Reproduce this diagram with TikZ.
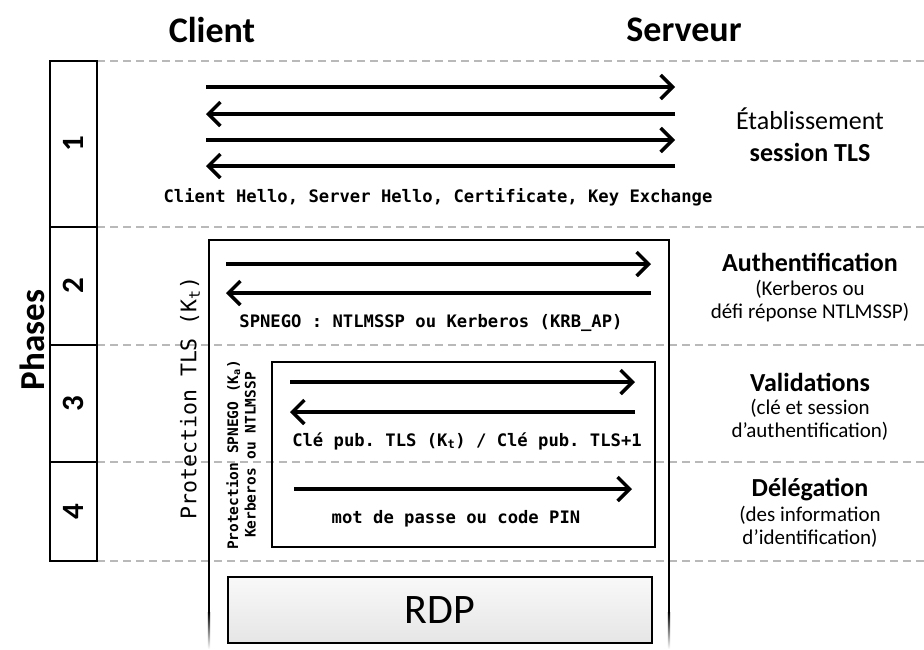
\documentclass[tikz,border=0pt]{standalone}
\usepackage{fontspec}
\setmainfont{Carlito}
\setmonofont{DejaVu Sans Mono}
\usepackage{xcolor}
\usepackage{tikz}
\usetikzlibrary{arrows.meta,positioning,calc}

\begin{document}
\begin{tikzpicture}[
    x=1pt, y=-1pt,
    phasebox/.style={rectangle, draw=black, line width=1.3pt, rotate=90, minimum height=47pt, inner sep=0pt, font=\fontsize{31}{31}\selectfont\bfseries},
    headlabel/.style={font=\fontsize{36}{36}\selectfont\bfseries},
    msglabel/.style={font=\fontsize{17.2}{18}\selectfont\ttfamily\bfseries},
    titlelabel/.style={align=center, inner sep=0pt, font=\fontsize{26}{32}\selectfont},
    sublabel/.style={align=center, inner sep=0pt, font=\fontsize{21}{23}\selectfont},
    sepline/.style={draw=gray!55, line width=1.4pt, dash pattern=on 8pt off 5pt},
    msgarrow/.style={-{Straight Barb[length=12pt, width=24pt, line width=3.4pt]}, line width=3.8pt},
    protbox/.style={draw=black, line width=2.2pt}
]
    \useasboundingbox (0,0) rectangle (924,649);

    % separators between phases
    \foreach \y in {61,227,345,462,561}
        \draw [sepline] (97,\y) -- (924,\y);

    % column of phases
    \node [headlabel, rotate=90, font=\fontsize{35}{35}\selectfont\bfseries] (phases) at (32,340) {Phases};
    \node [phasebox, minimum width=166pt] (ph1) at (73.5,144) {1};
    \node [phasebox, minimum width=118pt] (ph2) at (73.5,286) {2};
    \node [phasebox, minimum width=117pt] (ph3) at (73.5,403.5) {3};
    \node [phasebox, minimum width=99pt] (ph4) at (73.5,511.5) {4};

    \node [headlabel] (client) at (212,30) {Client};
    \node [headlabel] (serveur) at (684,30) {Serveur};

    % phase 1 : TLS
    \foreach \i/\y in {1/87,2/114,3/140,4/166} {
        \coordinate (c\i) at (206,\y);
        \coordinate (s\i) at (675,\y);
    }
    \draw [msgarrow] (c1) -- (s1);
    \draw [msgarrow] (s2) -- (c2);
    \draw [msgarrow] (c3) -- (s3);
    \draw [msgarrow] (s4) -- (c4);
    \node [msglabel] (tlsmsg) at (438,197) {Client Hello, Server Hello, Certificate, Key Exchange};

    % TLS protection
    \coordinate (tlsbl) at (209,612);
    \coordinate (tlsbr) at (669,612);
    \draw [protbox] (tlsbl) -- (209,240) -- (669,240) -- (tlsbr);
    \shade [top color=black, bottom color=white] (207.9,612) rectangle (210.1,649);
    \shade [top color=black, bottom color=white] (667.9,612) rectangle (670.1,649);
    \node [rotate=90, font=\fontsize{21.5}{22}\selectfont\ttfamily] (tlsprot) at (190,398) {Protection TLS (K\textsubscript{t})};

    % phase 2 : authentication
    \coordinate (c5) at (226,264);  \coordinate (s5) at (651,264);
    \coordinate (c6) at (226,293);  \coordinate (s6) at (651,293);
    \draw [msgarrow] (c5) -- (s5);
    \draw [msgarrow] (s6) -- (c6);
    \node [msglabel] (authmsg) at (431,323) {SPNEGO : NTLMSSP ou Kerberos (KRB\_AP)};

    % SPNEGO protection
    \draw [protbox] (272,362) rectangle (655,547);
    \node [rotate=90, align=center, font=\fontsize{14.5}{17.5}\selectfont\ttfamily\bfseries] (spnegoprot) at (241,455) {Protection SPNEGO (K\textsubscript{a})\\Kerberos ou NTLMSSP};

    % phase 3 : validations
    \coordinate (c7) at (290,382);  \coordinate (s7) at (635,382);
    \coordinate (c8) at (290,412);  \coordinate (s8) at (635,412);
    \draw [msgarrow] (c7) -- (s7);
    \draw [msgarrow] (s8) -- (c8);
    \node [msglabel] (valmsg) at (467,441) {Clé pub. TLS (K\textsubscript{t}) / Clé pub. TLS+1};

    % phase 4 : delegation
    \coordinate (c9) at (294,489);  \coordinate (s9) at (632,489);
    \draw [msgarrow] (c9) -- (s9);
    \node [msglabel] (delmsg) at (456,519) {mot de passe ou code PIN};

    % RDP
    \node [draw=black, line width=1.2pt, top color=gray!5, bottom color=gray!20, minimum width=424pt, minimum height=66pt, font=\fontsize{42}{42}\selectfont] (rdp) at (440,610) {RDP};

    % descriptions of the phases
    \node [titlelabel] (t1) at (810,135) {Établissement\\\textbf{session TLS}};
    \node [titlelabel, font=\fontsize{26}{30}\selectfont\bfseries] (t2) at (810,262) {Authentification};
    \node [sublabel] (d2) at (810,301) {(Kerberos ou\\défi réponse NTLMSSP)};
    \node [titlelabel, font=\fontsize{26}{30}\selectfont\bfseries] (t3) at (810,382) {Validations};
    \node [sublabel] (d3) at (810,420) {(clé et session\\d’authentification)};
    \node [titlelabel, font=\fontsize{26}{30}\selectfont\bfseries] (t4) at (810,490) {Délégation};
    \node [sublabel] (d4) at (810,527) {(des information\\d’identification)};
\end{tikzpicture}
\end{document}
